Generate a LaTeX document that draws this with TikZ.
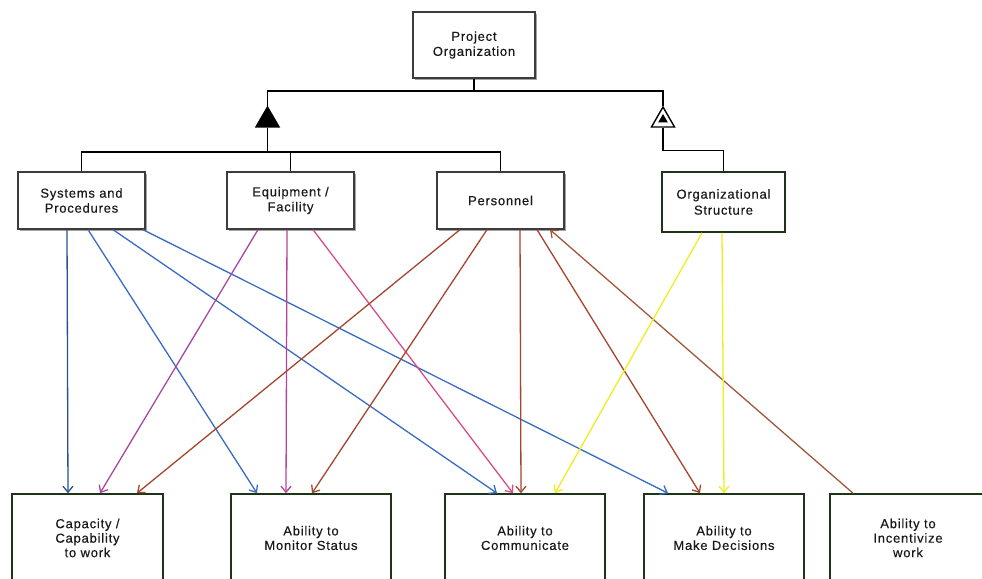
\documentclass[tikz,border=0pt]{standalone}
\usepackage{fontspec}
\setmainfont{Liberation Sans}[LetterSpace=6, FakeBold=0.35]
\usetikzlibrary{arrows.meta,shapes.geometric,shadows}

\definecolor{boxgray}{HTML}{3C3C3C}
\definecolor{goalgreen}{HTML}{1E3418}
\definecolor{sysblue}{HTML}{3A6CC0}
\definecolor{sysnavy}{HTML}{28508F}
\definecolor{eqpurple}{HTML}{A8489E}
\definecolor{eqmagenta}{HTML}{B8449A}
\definecolor{eqpink}{HTML}{D84C8C}
\definecolor{perbrown}{HTML}{A4462E}
\definecolor{incbrown}{HTML}{A0583C}
\definecolor{orgyellow}{HTML}{EEEE22}

\tikzset{
  box/.style={draw=boxgray, line width=1.3pt, fill=white, inner sep=0pt,
    align=center, text=black!90, font=\fontsize{13}{15}\selectfont},
  shadowed/.style={drop shadow={shadow xshift=2pt, shadow yshift=-2pt,
    fill=black!45, opacity=0.8}},
  goalbox/.style={box, draw=goalgreen, line width=1.6pt,
    font=\fontsize{13}{14.5}\selectfont},
  midbox/.style={box, shadowed, minimum width=127pt, minimum height=57pt},
  lowbox/.style={goalbox, minimum width=160pt, minimum height=88pt},
  tree/.style={line width=1.4pt, black},
  link/.style={line width=1.3pt, -{Straight Barb[length=6pt,width=10pt]}},
  tri/.style={regular polygon, regular polygon sides=3, inner sep=0pt,
    minimum size=26.6pt, line width=1.4pt}
}

\begin{document}
\begin{tikzpicture}[x=1pt, y=-1pt]
  \useasboundingbox (0,0) rectangle (982,578);
  \fill[white] (0,0) rectangle (982,578);
  \clip (0,0) rectangle (982,578);

  % root
  \node[box, shadowed, minimum width=122pt, minimum height=66pt] (proj) at (474,45)
    {Project\\Organization};

  % aggregation and composition markers
  \node[tri, fill=black, draw=black] (agg) at (267.5,120.3) {};
  \node[tri, fill=white, draw=black] (comp) at (663,120.3) {};
  \node[tri, fill=black, minimum size=11pt, line width=0pt] (compdot) at (663,119.5) {};

  % second level
  \node[midbox] (sys)   at (81.5,200.5)  {Systems and\\Procedures};
  \node[midbox] (equip) at (290.5,200.5) {Equipment /\\Facility};
  \node[midbox] (pers)  at (500.5,200.5) {Personnel};
  \node[goalbox, minimum width=123pt, minimum height=60pt, font=\fontsize{13}{16}\selectfont]
    (org) at (723.5,202) {Organizational\\Structure};

  % capabilities
  \node[lowbox, minimum width=151pt] (cap) at (87.5,538) {Capacity /\\Capability\\to work};
  \node[lowbox] (mon) at (311,538) {Ability to\\Monitor Status};
  \node[lowbox] (com) at (525,538) {Ability to\\Communicate};
  \node[lowbox] (dec) at (724,538) {Ability to\\Make Decisions};
  \node[lowbox, minimum width=156pt] (inc) at (908,538) {Ability to\\Incentivize\\work};

  % hierarchy
  \coordinate (topbus) at (474,91);
  \coordinate (lowbus) at (267.5,152);
  \draw[tree] (proj.south) -- (topbus);
  \draw[tree] (agg.north) |- (topbus) -| (comp.north);
  \draw[tree] (agg.south) -- (lowbus);
  \draw[tree] (sys.north) -- (sys.north |- lowbus) -- (pers.north |- lowbus) -- (pers.north);
  \draw[tree] (equip.north) -- (equip.north |- lowbus);
  \draw[tree] (comp.south) -- ++(0,23) -| (org.north);

  % systems and procedures
  \draw[link, sysnavy] ([xshift=-14.5pt]sys.south) -- ([xshift=-19.5pt]cap.north);
  \draw[link, sysblue] ([xshift=6.5pt]sys.south) -- ([xshift=-54pt]mon.north);
  \draw[link, sysblue] ([xshift=31.5pt]sys.south) -- ([xshift=-28pt]com.north);
  \draw[link, sysblue] ([xshift=61.5pt]sys.south) -- ([xshift=-56pt]dec.north);

  % equipment / facility
  \draw[link, eqpurple] ([xshift=-32.5pt]equip.south) -- ([xshift=12.5pt]cap.north);
  \draw[link, eqmagenta] ([xshift=-3.5pt]equip.south) -- ([xshift=-25pt]mon.north);
  \draw[link, eqpink] ([xshift=22.5pt]equip.south) -- ([xshift=-12pt]com.north);

  % personnel
  \draw[link, perbrown] ([xshift=-40.5pt]pers.south) -- ([xshift=49.5pt]cap.north);
  \draw[link, perbrown] ([xshift=-13.5pt]pers.south) -- ([xshift=1pt]mon.north);
  \draw[link, perbrown] ([xshift=19.5pt]pers.south) -- ([xshift=-4pt]com.north);
  \draw[link, perbrown] ([xshift=36.5pt]pers.south) -- ([xshift=-24pt]dec.north);
  \draw[link, incbrown] ([xshift=-55pt]inc.north) -- ([xshift=49.5pt]pers.south);

  % organizational structure
  \draw[link, orgyellow] ([xshift=-21.5pt]org.south) -- ([xshift=30pt]com.north);
  \draw[link, orgyellow] ([xshift=-1.5pt]org.south) -- ([xshift=0pt]dec.north);
\end{tikzpicture}
\end{document}
